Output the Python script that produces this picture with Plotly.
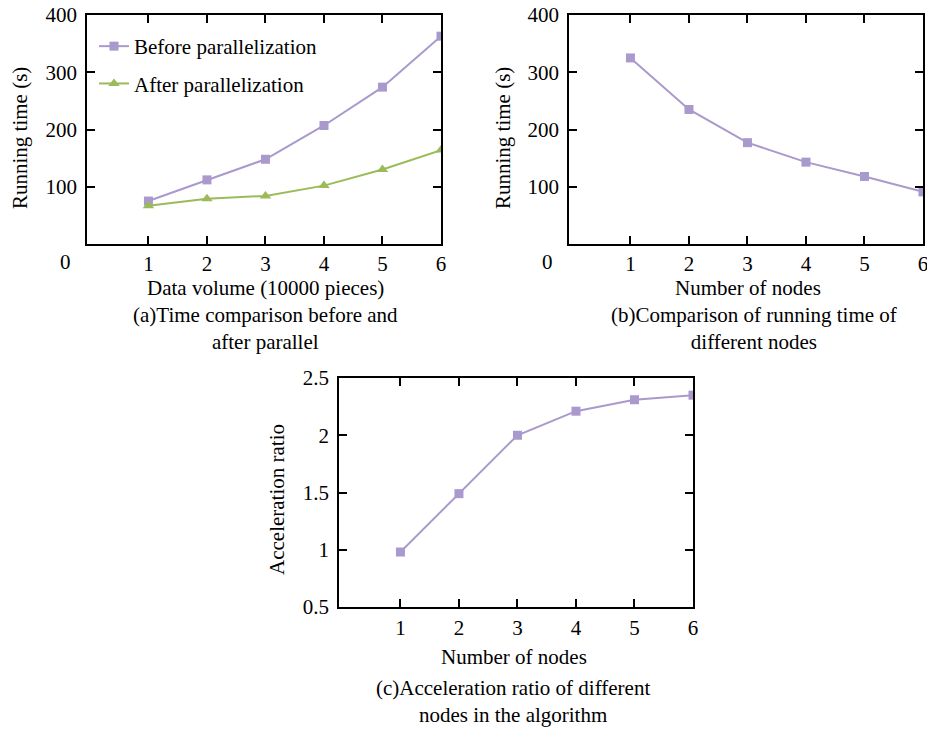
import plotly.graph_objects as go

# ---- data ----
volume = [1, 2, 3, 4, 5, 6]
before_par = [75, 112, 148, 207, 274, 363]
after_par = [67, 79, 84, 102, 130, 164]

nodes = [1, 2, 3, 4, 5, 6]
run_time_nodes = [325, 235, 177, 143, 118, 91]

accel_ratio = [0.98, 1.49, 2.0, 2.21, 2.31, 2.35]

PURPLE = "#A999CC"
GREEN = "#9BBB59"
FONT = "Liberation Serif"
FS = 21
W, H = 927, 729

fig = go.Figure()

fig.add_trace(go.Scatter(x=volume, y=before_par, mode="lines+markers",
                         name="Before parallelization", legendgroup="a1",
                         line=dict(color=PURPLE, width=2),
                         marker=dict(symbol="square", size=9, color=PURPLE),
                         xaxis="x", yaxis="y"))
fig.add_trace(go.Scatter(x=volume, y=after_par, mode="lines+markers",
                         name="After parallelization", legendgroup="a2",
                         line=dict(color=GREEN, width=2),
                         marker=dict(symbol="triangle-up", size=10, color=GREEN),
                         xaxis="x", yaxis="y"))
fig.add_trace(go.Scatter(x=nodes, y=run_time_nodes, mode="lines+markers",
                         showlegend=False,
                         line=dict(color=PURPLE, width=2),
                         marker=dict(symbol="square", size=9, color=PURPLE),
                         xaxis="x2", yaxis="y2"))
fig.add_trace(go.Scatter(x=nodes, y=accel_ratio, mode="lines+markers",
                         showlegend=False,
                         line=dict(color=PURPLE, width=2),
                         marker=dict(symbol="square", size=9, color=PURPLE),
                         xaxis="x3", yaxis="y3"))


def px_x(p):
    return p / W


def px_y(p):
    return (H - p) / H


def axis_common(**kw):
    d = dict(showline=True, linecolor="black", linewidth=1.5, mirror="allticks",
             ticks="inside", ticklen=8, tickwidth=1.5, tickcolor="black",
             showgrid=False, zeroline=False, automargin=False,
             ticklabeloverflow="allow",
             tickfont=dict(family=FONT, size=FS, color="black"))
    d.update(kw)
    return d


xr = [-0.05, 6.0]
fig.update_layout(
    width=W, height=H,
    margin=dict(l=0, r=0, t=0, b=0, autoexpand=False),
    paper_bgcolor="white", plot_bgcolor="white",
    font=dict(family=FONT, size=FS, color="black"),
    xaxis=axis_common(domain=[px_x(87), px_x(441)], range=xr, tickvals=volume,
                      anchor="y"),
    yaxis=axis_common(domain=[px_y(244), px_y(15)], range=[0, 400],
                      tickvals=[100, 200, 300, 400], anchor="x", ticklabelstandoff=4),
    xaxis2=axis_common(domain=[px_x(569), px_x(923)], range=xr, tickvals=nodes,
                       anchor="y2"),
    yaxis2=axis_common(domain=[px_y(244), px_y(15)], range=[0, 400],
                       tickvals=[100, 200, 300, 400], anchor="x2", ticklabelstandoff=4),
    xaxis3=axis_common(domain=[px_x(339), px_x(693)], range=xr, tickvals=nodes,
                       anchor="y3", ticklabelstandoff=1),
    yaxis3=axis_common(domain=[px_y(607), px_y(378)], range=[0.5, 2.5],
                       tickvals=[0.5, 1, 1.5, 2, 2.5], ticktext=["0.5", "1", "1.5", "2", "2.5"],
                       anchor="x3", ticklabelstandoff=4),
    legend=dict(x=px_x(94), y=px_y(26), xanchor="left", yanchor="top",
                bgcolor="rgba(0,0,0,0)", font=dict(family=FONT, size=FS),
                tracegroupgap=7, itemwidth=30),
)


def ann(text, x, y, angle=0):
    fig.add_annotation(text=text, x=px_x(x), y=px_y(y), xref="paper", yref="paper",
                       showarrow=False, textangle=angle, xanchor="center", yanchor="middle",
                       font=dict(family=FONT, size=FS, color="black"))


ann("0", 65, 262)
ann("0", 547, 262)
ann("Running time (s)", 20, 138, -90)
ann("Running time (s)", 503, 138, -90)
ann("Acceleration ratio", 277, 500, -90)
ann("Data volume (10000 pieces)", 265, 288)
ann("Number of nodes", 748, 288)
ann("Number of nodes", 514, 657)
ann("(a)Time comparison before and<br>after parallel", 265, 328)
ann("(b)Comparison of running time of<br>different nodes", 754, 328)
ann("(c)Acceleration ratio of different<br>nodes in the algorithm", 513, 701)

fig.write_html("out.html")
